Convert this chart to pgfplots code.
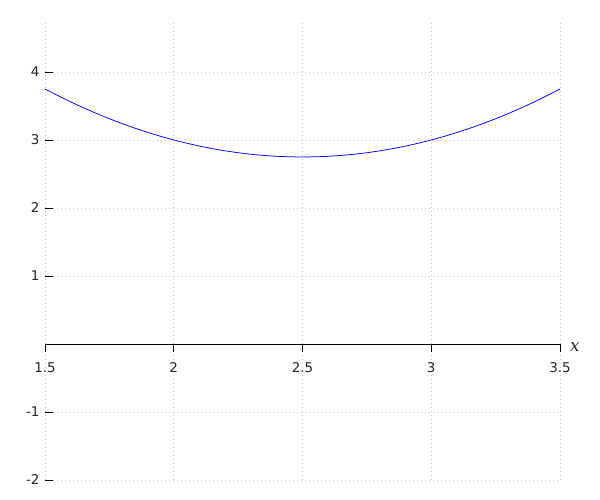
\documentclass[border=0pt]{standalone}
\usepackage{pgfplots}
\pgfplotsset{compat=1.18}
\usepackage{fontspec}
\setmainfont{DejaVu Sans}
\newfontfamily\dvserif{DejaVu Serif}
\begin{document}
\begin{tikzpicture}
\useasboundingbox (-45bp,-20bp) rectangle (555bp,480bp);
\begin{axis}[
  at={(0,0)}, anchor=south west,
  width=515bp, height=458bp, scale only axis,
  xmin=1.5, xmax=3.5, ymin=-2, ymax=4.735,
  axis x line=middle, axis y line=left,
  hide obscured x ticks=false, hide obscured y ticks=false,
  y axis line style={draw=none},
  x axis line style={-, black, line width=0.8bp},
  xtick={1.5,2,2.5,3,3.5}, xticklabels={1.5,2,2.5,3,3.5},
  ytick={-2,-1,1,2,3,4}, yticklabels={-2,-1,1,2,3,4},
  xtick align=outside, ytick align=inside,
  major tick length=8bp,
  tick style={black, line width=0.8bp},
  every tick label/.append style={font=\fontsize{13.5}{15}\selectfont, text=black!85},
  xticklabel style={yshift=-7bp},
  yticklabel style={xshift=-2bp},
  grid=major,
  major grid style={gray!45, line width=0.7bp, dash pattern=on 0.8bp off 3.2bp},
  clip=false,
]
\addplot[blue, line width=0.75bp] coordinates {
(1.5,3.75) (1.55,3.6525) (1.6,3.56) (1.65,3.4725) (1.7,3.39) (1.75,3.3125)
(1.8,3.24) (1.85,3.1725) (1.9,3.11) (1.95,3.0525) (2.0,3.0) (2.05,2.9525)
(2.1,2.91) (2.15,2.8725) (2.2,2.84) (2.25,2.8125) (2.3,2.79) (2.35,2.7725)
(2.4,2.76) (2.45,2.7525) (2.5,2.75) (2.55,2.7525) (2.6,2.76) (2.65,2.7725)
(2.7,2.79) (2.75,2.8125) (2.8,2.84) (2.85,2.8725) (2.9,2.91) (2.95,2.9525)
(3.0,3.0) (3.05,3.0525) (3.1,3.11) (3.15,3.1725) (3.2,3.24) (3.25,3.3125)
(3.3,3.39) (3.35,3.4725) (3.4,3.56) (3.45,3.6525) (3.5,3.75)
};
\node[anchor=west, inner sep=0pt, text=black!85] at (axis cs:3.5,-0.05) {\hspace{10bp}\dvserif\itshape\fontsize{17}{19}\selectfont x};
\end{axis}
\end{tikzpicture}
\end{document}
